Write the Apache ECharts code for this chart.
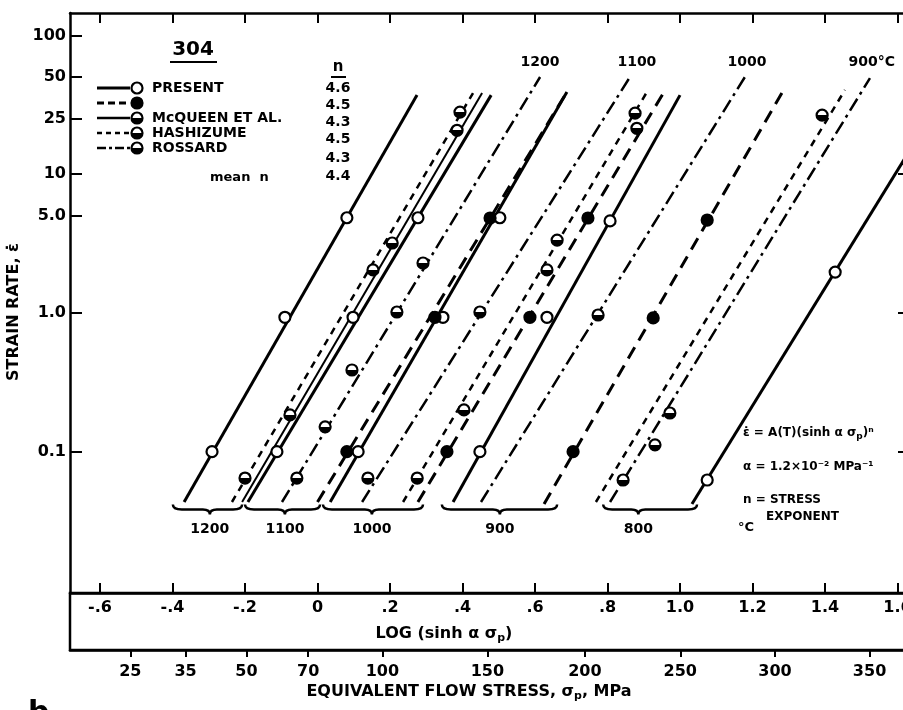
<!DOCTYPE html>
<html>
<head>
<meta charset="utf-8">
<script src="https://cdn.jsdelivr.net/npm/echarts@6/dist/echarts.min.js"></script>
<style>
html,body{margin:0;padding:0;background:#fff;}
#chart{width:903px;height:710px;}
</style>
</head>
<body>
<div id="chart"></div>
<script>
// ---------- axis ticks / labels ----------
const xTickValues = [-0.6,-0.4,-0.2,0,0.2,0.4,0.6,0.8,1.0,1.2,1.4,1.6];
const xTickLabels = ['-.6','-.4','-.2','0','.2','.4','.6','.8','1.0','1.2','1.4','1.6'];
const yTickValues = [0.1,1,5,10,25,50,100];
const yTickLabels = ['0.1','1.0','5.0','10','25','50','100'];
const yRightTicks = [0.1,1,10];
const stressTicks = [25,35,50,70,100,150,200,250,300,350];
const alphaMPa = 0.012; // MPa^-1

// ---------- legend / table text ----------
const legendNames = ['PRESENT','','McQUEEN ET AL.','HASHIZUME','ROSSARD'];
const nValues = ['4.6','4.5','4.3','4.5','4.3'];
const meanN = '4.4';

// ---------- lines: [log(sinh a sp), strain rate] ----------
const presentLines = [
  [[-0.368,0.0434],[0.2745,37.1]],
  [[-0.192,0.0434],[0.479,37.1]],
  [[0.035,0.0434],[0.688,39.1]],
  [[0.374,0.0434],[1.000,37.1]],
  [[1.033,0.042],[1.621,13.1]]
];
const presentPoints = [
  [-0.291,0.1],[-0.090,0.93],[0.081,4.85],
  [-0.112,0.1],[0.098,0.93],[0.277,4.85],
  [0.112,0.1],[0.346,0.93],[0.503,4.85],
  [0.448,0.1],[0.633,0.93],[0.807,4.6],
  [1.075,0.0625],[1.428,1.97]
];
const secondLines = [
  [[0.000,0.0434],[0.688,39.1]],
  [[0.277,0.0434],[0.956,39.1]],
  [[0.625,0.042],[1.281,38.4]]
];
const secondPoints = [
  [0.081,0.1],[0.324,0.93],[0.476,4.83],
  [0.357,0.1],[0.586,0.93],[0.746,4.83],
  [0.705,0.1],[0.926,0.92],[1.075,4.67]
];
const mcqueenLines = [
  [[-0.208,0.0434],[0.454,38.4]]
];
const mcqueenPoints = [
  [0.153,2.04],[0.206,3.19],[0.385,20.7]
];
const hashizumeLines = [
  [[-0.236,0.0434],[0.429,38.4]],
  [[0.236,0.0434],[0.912,40.4]],
  [[0.768,0.0434],[1.455,40.4]]
];
const hashizumePoints = [
  [-0.200,0.0646],[-0.076,0.184],[0.393,28.0],
  [0.275,0.0646],[0.404,0.200],[0.633,2.04],[0.661,3.35],[0.876,27.5],[0.881,21.4],
  [1.392,26.6]
];
const rossardLines = [
  [[-0.098,0.0434],[0.614,50.1]],
  [[0.123,0.0434],[0.862,50.1]],
  [[0.451,0.0434],[1.179,50.1]],
  [[0.807,0.0434],[1.524,49.2]]
];
const rossardPoints = [
  [-0.057,0.0646],[0.021,0.151],[0.095,0.388],[0.219,1.015],[0.291,2.29],
  [0.139,0.0646],[0.448,1.015],
  [0.774,0.966],
  [0.843,0.0625],[0.931,0.112],[0.972,0.190]
];

// ---------- temperature brackets (x from, x to, x tip) ----------
const bracketRanges = [
  [-0.399,-0.208,-0.297],
  [-0.200,0.007,-0.090],
  [0.015,0.291,0.150],
  [0.343,0.661,0.503],
  [0.788,1.047,0.885]
];
const bracketLabels = ['1200','1100','1000','900','800'];
const bracketLevel = 0.0416;
// temperature labels at top of lines
const topLabelPos = [[0.614,64],[0.881,64],[1.185,64],[1.465,64]];
const topLabelText = ['1200','1100','1000','900°C'];

// ---------- helpers ----------
const FONT = '"DejaVu Sans", sans-serif';
const X_MIN = -0.6828, X_MAX = 1.6234;
const Y_MIN = 0.00959, Y_MAX = 144.9;
const stressPos = stressTicks.map(s => Math.log10(Math.sinh(alphaMPa * s)));
const halfFill = {type:'linear',x:0,y:0,x2:0,y2:1,colorStops:[
  {offset:0,color:'#fff'},{offset:0.48,color:'#fff'},{offset:0.48,color:'#000'},{offset:1,color:'#000'}]};

function pick(vals, labels, v, tol, logCmp) {
  for (let i = 0; i < vals.length; i++) {
    const d = logCmp ? Math.abs(Math.log10(vals[i]) - Math.log10(v)) : Math.abs(vals[i] - v);
    if (d < tol) return labels[i];
  }
  return '';
}
const styles = {
  present:   {width:3,   type:'solid'},
  second:    {width:3,   type:[13,8]},
  mcqueen:   {width:2,   type:'solid'},
  hashizume: {width:2.5, type:[7,6]},
  rossard:   {width:2.5, type:[14,5,3,5]}
};
function lineSeries(name, segs, st) {
  return segs.map(seg => ({
    type:'line', name, data:seg, xAxisIndex:0, yAxisIndex:0, symbol:'none', silent:true, z:3,
    lineStyle:{color:'#000', width:st.width, type:st.type}
  }));
}
function pointSeries(name, pts, fill) {
  return {type:'scatter', name, data:pts, xAxisIndex:0, yAxisIndex:0, symbol:'circle', symbolSize:11,
    silent:true, z:6, itemStyle:{color:fill, borderColor:'#000', borderWidth:2.2, opacity:1}};
}

const series = [].concat(
  lineSeries('PRESENT', presentLines, styles.present),
  lineSeries('PRESENT (2)', secondLines, styles.second),
  lineSeries('McQUEEN ET AL.', mcqueenLines, styles.mcqueen),
  lineSeries('HASHIZUME', hashizumeLines, styles.hashizume),
  lineSeries('ROSSARD', rossardLines, styles.rossard),
  [
    pointSeries('PRESENT', presentPoints, '#fff'),
    pointSeries('PRESENT (2)', secondPoints, '#000'),
    pointSeries('McQUEEN ET AL.', mcqueenPoints, halfFill),
    pointSeries('HASHIZUME', hashizumePoints, halfFill),
    pointSeries('ROSSARD', rossardPoints, halfFill),
    {
      type:'custom', name:'brackets', xAxisIndex:0, yAxisIndex:0, silent:true, z:4,
      data: bracketRanges.map(r => [r[0], r[1], r[2], bracketLevel]),
      encode:{x:[0,1,2], y:3},
      renderItem(params, api) {
        const i = params.dataIndex;
        const a = api.coord([api.value(0), api.value(3)]);
        const b = api.coord([api.value(1), api.value(3)]);
        const t = api.coord([api.value(2), api.value(3)]);
        const y0 = a[1], d = 5;
        const p = `M${a[0]},${y0} Q${a[0]},${y0+d} ${a[0]+9},${y0+d} L${t[0]-7},${y0+d} Q${t[0]},${y0+d} ${t[0]},${y0+2*d} Q${t[0]},${y0+d} ${t[0]+7},${y0+d} L${b[0]-9},${y0+d} Q${b[0]},${y0+d} ${b[0]},${y0}`;
        return {type:'group', children:[
          {type:'path', shape:{pathData:p}, style:{fill:'none', stroke:'#000', lineWidth:2.5}},
          {type:'text', x:t[0], y:y0+25, style:{text:bracketLabels[i], font:'bold 14px '+FONT, fill:'#000', align:'center', verticalAlign:'middle'}}
        ]};
      }
    },
    {
      type:'custom', name:'topLabels', xAxisIndex:0, yAxisIndex:0, silent:true, z:4,
      data: topLabelPos, encode:{x:0, y:1},
      renderItem(params, api) {
        const c = api.coord([api.value(0), api.value(1)]);
        const txt = topLabelText[params.dataIndex];
        return {type:'text', x:c[0], y:c[1], style:{text:txt, font:'bold 14px '+FONT, fill:'#000',
          align: txt.indexOf('°') >= 0 ? 'left' : 'center', verticalAlign:'middle'}};
      }
    }
  ]
);

const labelFont = {fontFamily:FONT, fontWeight:'bold', fontSize:16, color:'#000'};
const subRich = {s:{fontFamily:FONT, fontWeight:'bold', fontSize:11, color:'#000', verticalAlign:'bottom', lineHeight:12}};

const option = {
  animation:false,
  backgroundColor:'#fff',
  grid:[
    {left:70, top:13, width:836, height:580, outerBoundsMode:'none', containLabel:false},
    {left:70, top:593, width:836, height:57, outerBoundsMode:'none', containLabel:false, show:true, borderColor:'#000', borderWidth:2.5, backgroundColor:'transparent'}
  ],
  xAxis:[
    {type:'value', gridIndex:0, position:'bottom', min:X_MIN, max:X_MAX,
     axisLine:{show:true, onZero:false, lineStyle:{color:'#000', width:2.5}},
     axisTick:{show:true, inside:true, length:10, customValues:xTickValues, lineStyle:{color:'#000', width:2}},
     axisLabel:Object.assign({show:true, margin:7, customValues:xTickValues,
        formatter:v => pick(xTickValues, xTickLabels, v, 1e-6, false)}, labelFont),
     splitLine:{show:false},
     name:'LOG (sinh α σ{s|p})', nameLocation:'middle', nameGap:31,
     nameTextStyle:{fontFamily:FONT, fontWeight:'bold', fontSize:16, color:'#000', lineHeight:20, padding:[0,88,0,0], rich:subRich}
    },
    {type:'value', gridIndex:0, position:'top', min:X_MIN, max:X_MAX,
     axisLine:{show:true, onZero:false, lineStyle:{color:'#000', width:2.5}},
     axisTick:{show:true, inside:true, length:10, customValues:xTickValues, lineStyle:{color:'#000', width:2}},
     axisLabel:{show:false}, splitLine:{show:false}
    },
    {type:'value', gridIndex:1, position:'bottom', min:X_MIN, max:X_MAX,
     axisLine:{show:true, onZero:false, lineStyle:{color:'#000', width:2.5}},
     axisTick:{show:true, inside:false, length:7, customValues:stressPos, lineStyle:{color:'#000', width:2}},
     axisLabel:Object.assign({show:true, margin:14, customValues:stressPos,
        formatter:v => pick(stressPos, stressTicks.map(String), v, 1e-6, false)}, labelFont),
     splitLine:{show:false},
     name:'EQUIVALENT FLOW STRESS, σ{s|p}, MPa', nameLocation:'middle', nameGap:32,
     nameTextStyle:{fontFamily:FONT, fontWeight:'bold', fontSize:16, color:'#000', lineHeight:20, padding:[0,38,0,0], rich:subRich}
    }
  ],
  yAxis:[
    {type:'log', logBase:10, gridIndex:0, min:Y_MIN, max:Y_MAX,
     axisLine:{show:true, onZero:false, lineStyle:{color:'#000', width:2.5}},
     axisTick:{show:true, inside:true, length:12, customValues:yTickValues, lineStyle:{color:'#000', width:2}},
     minorTick:{show:false},
     axisLabel:Object.assign({show:true, margin:4, customValues:yTickValues,
        formatter:v => pick(yTickValues, yTickLabels, v, 0.01, true)}, labelFont),
     splitLine:{show:false},
     name:'STRAIN RATE, ε\u0307', nameLocation:'middle', nameGap:32, nameRotate:90,
     nameTextStyle:{fontFamily:FONT, fontWeight:'bold', fontSize:16, color:'#000', padding:[0,18,0,0]}
    },
    {type:'log', logBase:10, gridIndex:0, position:'right', min:Y_MIN, max:Y_MAX,
     axisLine:{show:true, onZero:false, lineStyle:{color:'#000', width:2.5}},
     axisTick:{show:true, inside:true, length:8, customValues:yRightTicks, lineStyle:{color:'#000', width:2}},
     minorTick:{show:false}, axisLabel:{show:false}, splitLine:{show:false}
    },
    {type:'value', gridIndex:1, min:0, max:1, show:false}
  ],
  series: series,
  graphic: buildGraphic()
};

function buildGraphic() {
  const g = [];
  const txt = (x, y, text, size, align) => g.push({type:'text', x, y, z:10, silent:true,
    style:{text, font:'bold '+size+'px '+FONT, fill:'#000', align:align||'left', verticalAlign:'middle'}});
  // title 304
  txt(193, 50, '304', 20, 'center');
  g.push({type:'line', silent:true, shape:{x1:170,y1:62,x2:217,y2:62}, style:{stroke:'#000', lineWidth:2}});
  // n header
  txt(338, 67, 'n', 15, 'center');
  g.push({type:'line', silent:true, shape:{x1:331,y1:77,x2:346,y2:77}, style:{stroke:'#000', lineWidth:2}});
  // legend rows
  const rowY = [88,103,118,133,148];
  const rowStyle = [
    {dash:null, w:3, fill:'#fff'},
    {dash:[7,4], w:3, fill:'#000'},
    {dash:null, w:2.5, fill:halfFill},
    {dash:[5,4], w:2.5, fill:halfFill},
    {dash:[9,3,3,3], w:2.5, fill:halfFill}
  ];
  rowY.forEach((y, i) => {
    const st = {stroke:'#000', lineWidth:rowStyle[i].w};
    if (rowStyle[i].dash) st.lineDash = rowStyle[i].dash;
    g.push({type:'line', silent:true, shape:{x1:97,y1:y,x2:130,y2:y}, style:st});
    g.push({type:'circle', silent:true, z:11, shape:{cx:137,cy:y,r:5.5}, style:{fill:rowStyle[i].fill, stroke:'#000', lineWidth:2.2}});
    if (legendNames[i]) txt(152, y, legendNames[i], 14, 'left');
  });
  // n values
  const nY = [88,105,122,139,158];
  nValues.forEach((v, i) => txt(338, nY[i], v, 14, 'center'));
  txt(338, 176, meanN, 14, 'center');
  txt(210, 178, 'mean  n', 13, 'left');
  // equation block
  const eqRich = {s:{font:'bold 9px '+FONT, fill:'#000', verticalAlign:'bottom', lineHeight:10}};
  g.push({type:'text', x:743, y:433, silent:true, style:{text:'ε\u0307 = A(T)(sinh α σ{s|p})ⁿ', font:'bold 12px '+FONT, fill:'#000', verticalAlign:'middle', lineHeight:16, rich:eqRich}});
  txt(743, 467, 'α = 1.2×10⁻² MPa⁻¹', 12, 'left');
  txt(743, 500, 'n = STRESS', 12, 'left');
  txt(766, 517, 'EXPONENT', 12, 'left');
  txt(738, 528, '°C', 13, 'left');
  // panel letter
  g.push({type:'text', x:28, y:699, silent:true, style:{text:'b', font:'bold 30px '+FONT, fill:'#000', verticalAlign:'top'}});
  return g;
}

const chart = echarts.init(document.getElementById('chart'), null, {renderer:'canvas'});
chart.setOption(option);
</script>
</body>
</html>
